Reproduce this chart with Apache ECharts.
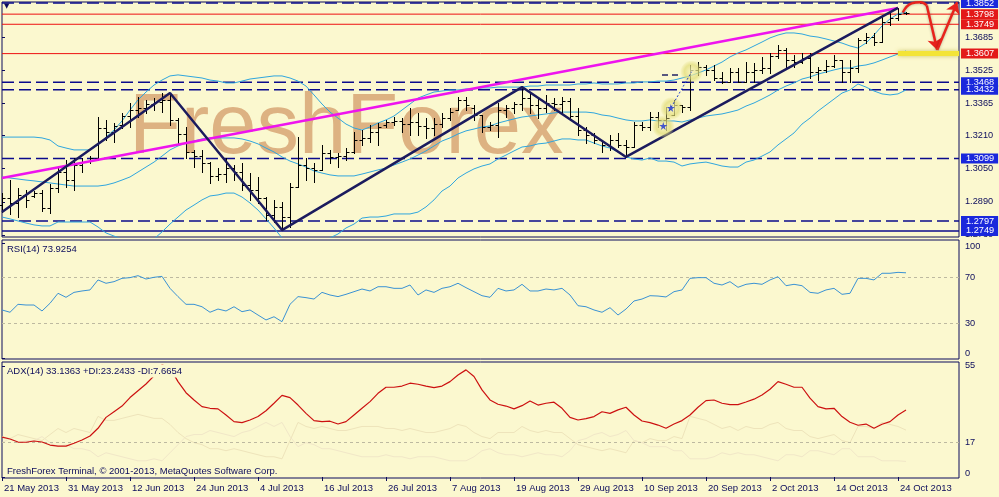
<!DOCTYPE html>
<html>
<head>
<meta charset="utf-8">
<script src="https://cdn.jsdelivr.net/npm/echarts@6.0.0/dist/echarts.min.js"></script>
<style>
html,body{margin:0;padding:0;background:#fbf8cf;}
#chart{width:999px;height:497px;}
</style>
</head>
<body>
<div id="chart"></div>
<script>
// ---------------- DATA ----------------
const dates = [
 '2013-05-21','2013-05-22','2013-05-23','2013-05-24','2013-05-27','2013-05-28','2013-05-29','2013-05-30','2013-05-31',
 '2013-06-03','2013-06-04','2013-06-05','2013-06-06','2013-06-07','2013-06-10','2013-06-11','2013-06-12','2013-06-13','2013-06-14',
 '2013-06-17','2013-06-18','2013-06-19','2013-06-20','2013-06-21','2013-06-24','2013-06-25','2013-06-26','2013-06-27','2013-06-28',
 '2013-07-01','2013-07-02','2013-07-03','2013-07-04','2013-07-05','2013-07-08','2013-07-09','2013-07-10','2013-07-11','2013-07-12',
 '2013-07-15','2013-07-16','2013-07-17','2013-07-18','2013-07-19','2013-07-22','2013-07-23','2013-07-24','2013-07-25','2013-07-26',
 '2013-07-29','2013-07-30','2013-07-31','2013-08-01','2013-08-02','2013-08-05','2013-08-06','2013-08-07','2013-08-08','2013-08-09',
 '2013-08-12','2013-08-13','2013-08-14','2013-08-15','2013-08-16','2013-08-19','2013-08-20','2013-08-21','2013-08-22','2013-08-23',
 '2013-08-26','2013-08-27','2013-08-28','2013-08-29','2013-08-30','2013-09-02','2013-09-03','2013-09-04','2013-09-05','2013-09-06',
 '2013-09-09','2013-09-10','2013-09-11','2013-09-12','2013-09-13','2013-09-16','2013-09-17','2013-09-18','2013-09-19','2013-09-20',
 '2013-09-23','2013-09-24','2013-09-25','2013-09-26','2013-09-27','2013-09-30','2013-10-01','2013-10-02','2013-10-03','2013-10-04',
 '2013-10-07','2013-10-08','2013-10-09','2013-10-10','2013-10-11','2013-10-14','2013-10-15','2013-10-16','2013-10-17','2013-10-18',
 '2013-10-21','2013-10-22','2013-10-23','2013-10-24','2013-10-25'];

const tickLabels = ['21 May 2013','31 May 2013','12 Jun 2013','24 Jun 2013','4 Jul 2013','16 Jul 2013','26 Jul 2013',
 '7 Aug 2013','19 Aug 2013','29 Aug 2013','10 Sep 2013','20 Sep 2013','2 Oct 2013','14 Oct 2013','24 Oct 2013'];
const tickIndex = [0,8,16,24,32,40,48,56,64,72,80,88,96,104,112];

const opens = [1.2874,1.2908,1.2884,1.2923,1.2918,1.2932,1.2860,1.2957,1.3034,1.2995,
 1.3068,1.3087,1.3102,1.3247,1.3228,1.3262,1.3305,1.3334,1.3344,1.3363,
 1.3373,1.3383,1.3286,1.3218,1.3131,1.3111,1.3078,1.3015,1.3024,1.3053,
 1.3034,1.2971,1.2947,1.2908,1.2826,1.2865,1.2816,1.2961,1.3068,1.3053,
 1.3044,1.3126,1.3107,1.3111,1.3131,1.3189,1.3199,1.3228,1.3262,1.3276,
 1.3281,1.3266,1.3276,1.3257,1.3247,1.3266,1.3295,1.3334,1.3383,1.3344,
 1.3310,1.3252,1.3262,1.3334,1.3344,1.3363,1.3392,1.3358,1.3344,1.3368,
 1.3363,1.3378,1.3305,1.3237,1.3213,1.3189,1.3165,1.3189,1.3165,1.3155,
 1.3262,1.3252,1.3300,1.3286,1.3310,1.3358,1.3349,1.3528,1.3542,1.3528,
 1.3489,1.3470,1.3518,1.3470,1.3518,1.3528,1.3537,1.3595,1.3625,1.3576,
 1.3566,1.3586,1.3518,1.3528,1.3547,1.3576,1.3518,1.3537,1.3673,1.3687,
 1.3663,1.3760,1.3779,1.3804];
const highs = [1.2932,1.2995,1.2957,1.2947,1.2942,1.2947,1.2976,1.3053,1.3092,1.3102,
 1.3102,1.3111,1.3300,1.3286,1.3271,1.3320,1.3368,1.3397,1.3383,1.3392,
 1.3416,1.3416,1.3295,1.3252,1.3141,1.3141,1.3082,1.3053,1.3102,1.3068,
 1.3078,1.3029,1.3010,1.2913,1.2899,1.2889,1.2981,1.3203,1.3102,1.3078,
 1.3165,1.3141,1.3126,1.3150,1.3228,1.3237,1.3262,1.3271,1.3286,1.3300,
 1.3295,1.3344,1.3320,1.3295,1.3295,1.3320,1.3344,1.3397,1.3397,1.3358,
 1.3310,1.3276,1.3368,1.3358,1.3373,1.3445,1.3421,1.3397,1.3407,1.3392,
 1.3397,1.3392,1.3344,1.3252,1.3223,1.3189,1.3213,1.3223,1.3189,1.3276,
 1.3276,1.3324,1.3324,1.3349,1.3383,1.3358,1.3552,1.3566,1.3552,1.3552,
 1.3518,1.3537,1.3537,1.3566,1.3562,1.3591,1.3610,1.3649,1.3634,1.3600,
 1.3610,1.3610,1.3542,1.3576,1.3600,1.3576,1.3576,1.3683,1.3707,1.3707,
 1.3794,1.3804,1.3828,1.3808];
const lows = [1.2840,1.2831,1.2816,1.2865,1.2913,1.2845,1.2836,1.2937,1.2961,1.2947,
 1.3034,1.3078,1.3092,1.3189,1.3179,1.3247,1.3252,1.3300,1.3320,1.3334,
 1.3324,1.3262,1.3174,1.3102,1.3058,1.3034,1.2981,1.2995,1.2986,1.2995,
 1.2947,1.2899,1.2884,1.2802,1.2792,1.2753,1.2768,1.2961,1.2995,1.2986,
 1.3044,1.3078,1.3058,1.3092,1.3126,1.3165,1.3179,1.3165,1.3252,1.3262,
 1.3228,1.3213,1.3213,1.3199,1.3213,1.3252,1.3286,1.3334,1.3334,1.3286,
 1.3228,1.3237,1.3203,1.3300,1.3320,1.3334,1.3320,1.3295,1.3324,1.3334,
 1.3320,1.3286,1.3213,1.3174,1.3174,1.3131,1.3141,1.3155,1.3107,1.3155,
 1.3237,1.3237,1.3252,1.3237,1.3310,1.3324,1.3334,1.3504,1.3504,1.3479,
 1.3465,1.3470,1.3470,1.3470,1.3470,1.3513,1.3513,1.3586,1.3542,1.3542,
 1.3562,1.3489,1.3479,1.3518,1.3542,1.3470,1.3470,1.3518,1.3658,1.3649,
 1.3663,1.3746,1.3770,1.3799];
const closes = [1.2908,1.2884,1.2923,1.2899,1.2932,1.2860,1.2957,1.3034,1.2995,1.3068,
 1.3082,1.3102,1.3247,1.3228,1.3257,1.3305,1.3334,1.3344,1.3363,1.3373,
 1.3383,1.3286,1.3218,1.3131,1.3111,1.3078,1.3015,1.3024,1.3053,1.3034,
 1.2971,1.2947,1.2908,1.2826,1.2865,1.2816,1.2961,1.3068,1.3053,1.3044,
 1.3126,1.3107,1.3111,1.3131,1.3189,1.3199,1.3228,1.3252,1.3276,1.3281,
 1.3266,1.3276,1.3257,1.3247,1.3266,1.3295,1.3324,1.3383,1.3358,1.3310,
 1.3252,1.3262,1.3334,1.3344,1.3363,1.3392,1.3358,1.3344,1.3368,1.3363,
 1.3378,1.3305,1.3237,1.3213,1.3189,1.3165,1.3189,1.3165,1.3155,1.3262,
 1.3252,1.3300,1.3286,1.3295,1.3358,1.3349,1.3528,1.3542,1.3528,1.3489,
 1.3470,1.3518,1.3470,1.3518,1.3528,1.3537,1.3595,1.3625,1.3576,1.3566,
 1.3586,1.3518,1.3528,1.3547,1.3576,1.3518,1.3537,1.3673,1.3687,1.3663,
 1.3760,1.3779,1.3799,1.3804];

const bbUpper = [1.3203,1.3203,1.3203,1.3203,1.3203,1.3199,1.3189,1.3160,1.3150,1.3141,
 1.3141,1.3141,1.3165,1.3203,1.3237,1.3281,1.3334,1.3383,1.3421,1.3455,
 1.3479,1.3499,1.3504,1.3499,1.3494,1.3489,1.3479,1.3474,1.3465,1.3465,
 1.3474,1.3484,1.3489,1.3494,1.3499,1.3499,1.3489,1.3474,1.3450,1.3407,
 1.3363,1.3324,1.3295,1.3266,1.3247,1.3237,1.3252,1.3271,1.3286,1.3305,
 1.3334,1.3363,1.3392,1.3407,1.3421,1.3426,1.3431,1.3431,1.3436,1.3436,
 1.3441,1.3441,1.3445,1.3445,1.3445,1.3445,1.3450,1.3450,1.3455,1.3455,
 1.3455,1.3455,1.3460,1.3460,1.3465,1.3460,1.3460,1.3460,1.3465,1.3465,
 1.3470,1.3470,1.3474,1.3474,1.3479,1.3489,1.3499,1.3513,1.3528,1.3547,
 1.3566,1.3591,1.3610,1.3625,1.3644,1.3663,1.3683,1.3697,1.3707,1.3707,
 1.3702,1.3692,1.3687,1.3678,1.3668,1.3658,1.3644,1.3634,1.3658,1.3697,
 1.3741,1.3775,1.3799,1.3808];
const bbMiddle = [1.3010,1.3005,1.3000,1.2995,1.2991,1.2986,1.2981,1.2976,1.2971,1.2966,
 1.2966,1.2966,1.2966,1.2971,1.2981,1.2995,1.3010,1.3034,1.3058,1.3082,
 1.3111,1.3141,1.3160,1.3174,1.3184,1.3194,1.3199,1.3199,1.3199,1.3199,
 1.3194,1.3184,1.3170,1.3150,1.3131,1.3107,1.3087,1.3073,1.3058,1.3039,
 1.3029,1.3020,1.3015,1.3015,1.3015,1.3024,1.3034,1.3044,1.3053,1.3068,
 1.3082,1.3097,1.3116,1.3136,1.3160,1.3184,1.3199,1.3218,1.3233,1.3242,
 1.3252,1.3257,1.3271,1.3281,1.3291,1.3300,1.3305,1.3310,1.3315,1.3320,
 1.3324,1.3324,1.3324,1.3324,1.3320,1.3310,1.3305,1.3295,1.3286,1.3281,
 1.3281,1.3286,1.3281,1.3281,1.3281,1.3276,1.3286,1.3295,1.3305,1.3310,
 1.3315,1.3324,1.3334,1.3353,1.3368,1.3387,1.3407,1.3431,1.3450,1.3465,
 1.3484,1.3494,1.3508,1.3518,1.3528,1.3537,1.3537,1.3547,1.3552,1.3562,
 1.3576,1.3591,1.3605,1.3620];
const bbLower = [1.2816,1.2807,1.2797,1.2787,1.2778,1.2773,1.2773,1.2792,1.2792,1.2792,
 1.2792,1.2792,1.2768,1.2739,1.2724,1.2710,1.2685,1.2685,1.2695,1.2710,
 1.2744,1.2782,1.2816,1.2850,1.2874,1.2899,1.2918,1.2923,1.2932,1.2932,
 1.2913,1.2884,1.2850,1.2807,1.2763,1.2715,1.2685,1.2671,1.2666,1.2671,
 1.2695,1.2715,1.2734,1.2763,1.2782,1.2811,1.2816,1.2816,1.2821,1.2831,
 1.2831,1.2831,1.2840,1.2865,1.2899,1.2942,1.2966,1.3005,1.3029,1.3049,
 1.3063,1.3073,1.3097,1.3116,1.3136,1.3155,1.3160,1.3170,1.3174,1.3184,
 1.3194,1.3194,1.3189,1.3189,1.3174,1.3160,1.3150,1.3131,1.3107,1.3097,
 1.3092,1.3102,1.3087,1.3087,1.3082,1.3063,1.3073,1.3078,1.3082,1.3073,
 1.3063,1.3058,1.3058,1.3082,1.3092,1.3111,1.3131,1.3165,1.3194,1.3223,
 1.3266,1.3295,1.3329,1.3358,1.3387,1.3416,1.3431,1.3460,1.3445,1.3426,
 1.3412,1.3407,1.3412,1.3431];

const rsi = [41.6,39.6,46.5,45.9,45.9,40.7,47.4,56.1,52.6,56.9,
 58.1,59.0,67.7,64.8,66.2,69.1,69.7,71.4,68.5,70.0,
 70.8,60.4,53.2,46.5,46.5,44.4,39.6,42.4,40.7,44.4,
 40.1,41.6,37.2,32.9,35.7,31.4,46.5,53.2,52.3,51.1,
 56.9,54.6,53.2,55.2,57.5,59.8,58.1,61.8,61.8,60.4,
 60.4,63.3,54.6,59.0,56.9,60.4,61.8,64.8,61.0,57.5,
 54.0,52.6,60.4,58.1,59.0,63.9,58.1,58.1,59.8,59.0,
 60.4,54.6,45.3,44.4,41.6,39.6,43.6,37.2,42.4,49.4,
 51.1,54.0,53.7,52.9,57.5,59.0,69.1,69.7,69.7,64.8,
 63.3,66.2,61.3,63.9,64.8,63.9,67.7,70.5,62.7,63.9,
 62.7,56.9,56.1,59.0,60.4,55.2,56.1,69.1,69.1,67.7,
 73.5,73.5,74.3,73.9];
const adx = [19.7,18.8,17.3,17.2,17.8,17.3,15.8,15.3,15.3,16.7,
 18.3,20.3,24.1,29.5,32.3,35.1,39.3,42.7,46.0,50.0,
 55.5,54.0,47.2,41.7,38.1,34.8,34.0,33.7,30.7,27.4,
 26.9,28.2,29.9,32.8,36.5,40.4,39.3,35.6,31.5,27.9,
 27.4,27.6,26.2,27.4,30.7,34.0,37.3,41.4,44.4,44.4,
 45.0,46.4,45.9,45.0,44.2,45.0,47.2,50.5,53.0,49.7,
 43.1,38.1,36.0,35.1,33.7,35.3,37.6,35.6,36.5,37.0,
 34.0,29.5,28.2,28.9,29.9,32.3,31.5,33.2,34.5,30.7,
 27.7,26.9,25.7,24.1,26.2,27.9,30.7,34.5,37.8,38.1,
 36.5,35.8,35.8,37.1,38.5,40.6,43.4,47.2,45.9,44.4,
 44.4,39.0,34.8,33.7,34.0,29.9,27.1,25.6,26.2,24.1,
 26.1,27.4,30.7,33.1];
const diPlus = [20,19,21,20,19,18,21,24,22,24,
 23,22,30,28,28,29,30,31,30,29,
 29,26,22,19,17,16,14,14,13,14,
 13,12,11,10,10,9,18,27,25,24,
 25,24,23,23,24,25,25,25,24,24,
 23,24,23,22,22,23,24,26,25,22,
 20,19,22,22,22,25,23,22,23,22,
 22,19,16,15,14,13,14,13,12,18,
 17,19,18,18,20,19,30,29,28,26,
 24,25,23,25,24,24,26,27,24,23,
 23,20,19,20,21,18,17,25,25,24,
 27,26,25,23.2];
const diMinus = [17,19,17,18,18,20,17,15,16,14,
 14,13,10,12,11,10,9,8,8,9,
 8,12,16,20,21,21,23,22,21,20,
 22,23,25,27,25,27,20,15,17,16,
 14,14,13,12,11,10,10,10,11,10,
 10,9,10,10,10,9,8,8,8,10,
 13,14,12,11,11,10,11,12,11,11,
 10,13,18,19,21,22,20,21,23,18,
 17,15,15,15,13,13,9,9,9,10,
 12,11,12,11,11,10,9,8,11,11,
 10,13,13,12,11,14,14,10,10,10,
 8,8,8,7.7];

const priceTicks = [1.3685,1.3525,1.3365,1.3210,1.3050,1.2890,1.2730];
const rsiTicks = [0,30,70,100];
const rsiLevels = [30,70];
const adxTicks = [0,17,55];
const adxLevels = [17];

const levelsBlueDashed = [1.3852,1.3468,1.3432,1.3099,1.2797];
const levelsBlueSolid = [1.2749];
const levelsRed = [1.3798,1.3749,1.3607];

const zigzag = [[0,1.2840],[21,1.3416],[35,1.2753],[65,1.3445],[78,1.3107],[112,1.3828]];
const trendLine = [[0,1.3005],[112,1.3828]];
const targetLine = [[112,1.3607],[119.625,1.3607]];
const arrowCurve = [[112.6,1.3806],[113.7,1.3850],[114.8,1.3856],[115.6,1.3840]];
const arrowDown = [[115.6,1.3840],[116.9,1.3625]];
const arrowUp = [[116.9,1.3625],[119.4,1.3856]];
const circles = [[82.66,1.3253],[83.7,1.3342],[86.2,1.3519]];
const stars = [[82.66,1.3257],[83.6,1.3344]];
const starLink = [[83.4,1.3330],[86.2,1.3519]];
const shortDash = [[82.5,1.3504],[84.6,1.3504]];

// ---------------- CHART ----------------
const FONT = "'Liberation Sans', Arial, sans-serif";
const NAVY = '#0b0b5c';
const BG = '#fbf8cf';
const BLUE_BOX = '#1a28dc';
const RED_BOX = '#e31919';
const XMAX = 119.625;
const pair = arr => arr.map((v, i) => [i, v]);
const ohlc = opens.map((o, i) => [i, o, highs[i], lows[i], closes[i]]);

const chart = echarts.init(document.getElementById('chart'), null, {renderer: 'canvas'});

// each horizontal level is its own line series, labelled with an end label box
function levelSeries(v, boxColor, kind, z) {
  let ls;
  if (kind === 'dashed') ls = {color: '#0a0a8c', width: 1.5, type: [12, 5]};
  else if (kind === 'solidBlue') ls = {color: '#0a0a8c', width: 1.5, type: 'solid'};
  else ls = {color: '#ee1111', width: 1, type: 'solid'};
  return {
    type: 'line', name: 'level ' + v, xAxisIndex: 0, yAxisIndex: 0,
    data: [[0, v], [XMAX, v]], showSymbol: false, symbol: 'none', silent: true, clip: false, z: z,
    lineStyle: ls,
    endLabel: {
      show: true, distance: 2,
      formatter: () => v.toFixed(4),
      color: '#ffffff', backgroundColor: boxColor,
      fontFamily: FONT, fontSize: 9.2, lineHeight: 10, padding: [0, 4, 0, 5]
    }
  };
}

const levelSeriesList = []
  .concat(levelsBlueSolid.map(v => levelSeries(v, BLUE_BOX, 'solidBlue', 3)))
  .concat(levelsBlueDashed.map(v => levelSeries(v, BLUE_BOX, 'dashed', 3)))
  .concat(levelsRed.map(v => levelSeries(v, RED_BOX, 'red', 3)));

const xAxisBase = {type: 'value', min: 0, max: XMAX, splitLine: {show: false}};

const option = {
  backgroundColor: BG,
  animation: false,
  textStyle: {fontFamily: FONT},
  grid: [
    {left: 2, right: 40, top: 2, height: 235, show: true, borderColor: NAVY, borderWidth: 1, backgroundColor: 'transparent'},
    {left: 2, right: 40, top: 240, height: 119, show: true, borderColor: NAVY, borderWidth: 1, backgroundColor: 'transparent'},
    {left: 2, right: 40, top: 362, height: 116, show: true, borderColor: NAVY, borderWidth: 1, backgroundColor: 'transparent'}
  ],
  xAxis: [
    Object.assign({gridIndex: 0, show: false}, xAxisBase),
    Object.assign({gridIndex: 1, show: false}, xAxisBase),
    Object.assign({gridIndex: 2,
      axisLine: {show: false},
      axisTick: {show: true, length: 4, lineStyle: {color: NAVY}, customValues: tickIndex},
      axisLabel: {show: true, customValues: tickIndex, formatter: v => tickLabels[tickIndex.indexOf(Math.round(v))] || '',
        align: 'left', padding: [0, 0, 0, 2], margin: 5, color: NAVY, fontFamily: FONT, fontSize: 9.5}
    }, xAxisBase)
  ],
  yAxis: [
    {gridIndex: 0, type: 'value', position: 'right', min: 1.27194, max: 1.38568, splitLine: {show: false},
      axisLine: {show: false},
      axisTick: {show: true, length: 3, lineStyle: {color: NAVY}, customValues: priceTicks},
      axisLabel: {customValues: priceTicks, formatter: v => v.toFixed(4), margin: 6, color: NAVY, fontFamily: FONT, fontSize: 9.2}},
    {gridIndex: 1, type: 'value', position: 'right', min: -1.04, max: 102.43, splitLine: {show: false},
      axisLine: {show: false},
      axisTick: {show: true, length: 3, lineStyle: {color: NAVY}, customValues: rsiTicks},
      axisLabel: {customValues: rsiTicks, formatter: v => v === 100 ? '\n100' : (v === 0 ? '0\n' : String(v)),
        lineHeight: 8, margin: 6, color: NAVY, fontFamily: FONT, fontSize: 9.2}},
    {gridIndex: 2, type: 'value', position: 'right', min: -0.5, max: 56.9, splitLine: {show: false},
      axisLine: {show: false},
      axisTick: {show: true, length: 3, lineStyle: {color: NAVY}, customValues: adxTicks},
      axisLabel: {customValues: adxTicks, formatter: v => v === 0 ? '0\n' : String(v),
        lineHeight: 8, margin: 6, color: NAVY, fontFamily: FONT, fontSize: 9.2}}
  ],
  graphic: [
    {type: 'text', z: 0, silent: true, style: {text: 'FreshForex', x: 129, y: 130, verticalAlign: 'middle',
      font: "85px 'Liberation Sans', Arial, sans-serif", fill: '#ddb282'}},
    {type: 'text', z: 100, silent: true, style: {text: '▼', x: 4, y: 6, verticalAlign: 'middle',
      font: "7px 'DejaVu Sans', sans-serif", fill: NAVY}},
    {type: 'text', z: 100, silent: true, style: {text: 'RSI(14) 73.9254', x: 7, y: 249.5, verticalAlign: 'middle',
      font: "9.5px 'Liberation Sans', Arial, sans-serif", fill: NAVY}},
    {type: 'text', z: 100, silent: true, style: {text: 'ADX(14) 33.1363 +DI:23.2433 -DI:7.6654', x: 7, y: 371, verticalAlign: 'middle',
      font: "9.5px 'Liberation Sans', Arial, sans-serif", fill: NAVY, backgroundColor: BG, padding: [2, 2, 1, 0]}},
    {type: 'text', z: 100, silent: true, style: {text: 'FreshForex Terminal, © 2001-2013, MetaQuotes Software Corp.', x: 7, y: 471, verticalAlign: 'middle',
      font: "9.5px 'Liberation Sans', Arial, sans-serif", fill: NAVY}}
  ],
  series: levelSeriesList.concat([
    // Bollinger bands
    {type: 'line', name: 'BB upper', xAxisIndex: 0, yAxisIndex: 0, data: pair(bbUpper), showSymbol: false, silent: true, z: 4,
      lineStyle: {color: '#2fa6de', width: 1}},
    {type: 'line', name: 'BB middle', xAxisIndex: 0, yAxisIndex: 0, data: pair(bbMiddle), showSymbol: false, silent: true, z: 4,
      lineStyle: {color: '#2fa6de', width: 1}},
    {type: 'line', name: 'BB lower', xAxisIndex: 0, yAxisIndex: 0, data: pair(bbLower), showSymbol: false, silent: true, z: 4,
      lineStyle: {color: '#2fa6de', width: 1}},
    // OHLC bars
    {type: 'custom', name: 'EURUSD', xAxisIndex: 0, yAxisIndex: 0, data: ohlc, z: 5, silent: true,
      encode: {x: 0, y: [1, 2, 3, 4]},
      renderItem: function (params, api) {
        const x = api.value(0);
        const pO = api.coord([x, api.value(1)]);
        const pH = api.coord([x, api.value(2)]);
        const pL = api.coord([x, api.value(3)]);
        const pC = api.coord([x, api.value(4)]);
        const cx = Math.round(pH[0]) + 0.5;
        const st = {stroke: '#000000', lineWidth: 1};
        const yo = Math.round(pO[1]) + 0.5, yc = Math.round(pC[1]) + 0.5;
        return {type: 'group', children: [
          {type: 'line', shape: {x1: cx, y1: Math.round(pH[1]), x2: cx, y2: Math.round(pL[1]) + 1}, style: st},
          {type: 'line', shape: {x1: cx - 3, y1: yo, x2: cx, y2: yo}, style: st},
          {type: 'line', shape: {x1: cx, y1: yc, x2: cx + 3, y2: yc}, style: st}
        ]};
      }},
    // trend line
    {type: 'line', name: 'trend', xAxisIndex: 0, yAxisIndex: 0, data: trendLine, showSymbol: false, silent: true, z: 6,
      lineStyle: {color: '#ee14ee', width: 2.5}},
    // zigzag
    {type: 'line', name: 'zigzag', xAxisIndex: 0, yAxisIndex: 0, data: zigzag, showSymbol: false, silent: true, z: 7,
      lineStyle: {color: '#1b1b5e', width: 2.5}},
    // small annotations
    {type: 'line', name: 'dash', xAxisIndex: 0, yAxisIndex: 0, data: shortDash, showSymbol: false, silent: true, z: 7,
      lineStyle: {color: '#222266', width: 1.5, type: [6, 4]}},
    {type: 'scatter', name: 'circles', xAxisIndex: 0, yAxisIndex: 0, data: circles, symbol: 'circle', symbolSize: 22, silent: true, z: 8,
      itemStyle: {color: {type: 'radial', x: 0.5, y: 0.5, r: 0.5, colorStops: [
        {offset: 0, color: 'rgba(248,244,190,0.95)'}, {offset: 0.65, color: 'rgba(225,220,120,0.9)'}, {offset: 1, color: 'rgba(225,220,120,0.15)'}]}}},
    {type: 'line', name: 'link', xAxisIndex: 0, yAxisIndex: 0, data: starLink, showSymbol: false, silent: true, z: 9,
      lineStyle: {color: '#2040d0', width: 1, type: [2, 2]}},
    {type: 'scatter', name: 'stars', xAxisIndex: 0, yAxisIndex: 0, data: stars, silent: true, z: 9,
      symbol: 'path://M50,0 L61,35 L98,35 L68,57 L79,91 L50,70 L21,91 L32,57 L2,35 L39,35 Z', symbolSize: 8,
      itemStyle: {color: '#1830d0'}},
    // yellow target line
    {type: 'line', name: 'target', xAxisIndex: 0, yAxisIndex: 0, data: targetLine, showSymbol: false, silent: true, z: 9, clip: false,
      lineStyle: {color: '#f3e436', width: 5, shadowColor: 'rgba(190,180,60,0.7)', shadowBlur: 4}},
    // red arrows
    {type: 'line', name: 'arrow', xAxisIndex: 0, yAxisIndex: 0, data: arrowCurve, smooth: true, showSymbol: false, silent: true, z: 10, clip: false,
      lineStyle: {color: '#e8231c', width: 2.5, shadowColor: 'rgba(0,0,0,0.3)', shadowBlur: 3},
      markLine: {silent: true, precision: 4, symbol: ['none', 'arrow'], symbolSize: 11, label: {show: false},
        lineStyle: {color: '#e8231c', width: 2.5, type: 'solid', shadowColor: 'rgba(0,0,0,0.3)', shadowBlur: 3},
        data: [
          [{coord: arrowDown[0]}, {coord: arrowDown[1]}],
          [{coord: arrowUp[0]}, {coord: arrowUp[1]}]
        ]}},
    // RSI
    {type: 'line', name: 'RSI', xAxisIndex: 1, yAxisIndex: 1, data: pair(rsi), showSymbol: false, silent: true, z: 5,
      lineStyle: {color: '#3a92d4', width: 1},
      markLine: {silent: true, symbol: ['none', 'none'], label: {show: false},
        lineStyle: {color: '#bdb9a0', width: 1, type: [3, 3]},
        data: rsiLevels.map(v => ({yAxis: v}))}},
    // ADX
    {type: 'line', name: '+DI', xAxisIndex: 2, yAxisIndex: 2, data: pair(diPlus), showSymbol: false, silent: true, z: 4,
      lineStyle: {color: '#eee4bb', width: 1}},
    {type: 'line', name: '-DI', xAxisIndex: 2, yAxisIndex: 2, data: pair(diMinus), showSymbol: false, silent: true, z: 4,
      lineStyle: {color: '#f1e7c8', width: 1}},
    {type: 'line', name: 'ADX', xAxisIndex: 2, yAxisIndex: 2, data: pair(adx), showSymbol: false, silent: true, z: 5,
      lineStyle: {color: '#cc1010', width: 1.2},
      markLine: {silent: true, symbol: ['none', 'none'], label: {show: false},
        lineStyle: {color: '#bdb9a0', width: 1, type: [3, 3]},
        data: adxLevels.map(v => ({yAxis: v}))}}
  ])
};
chart.setOption(option);
</script>
</body>
</html>
